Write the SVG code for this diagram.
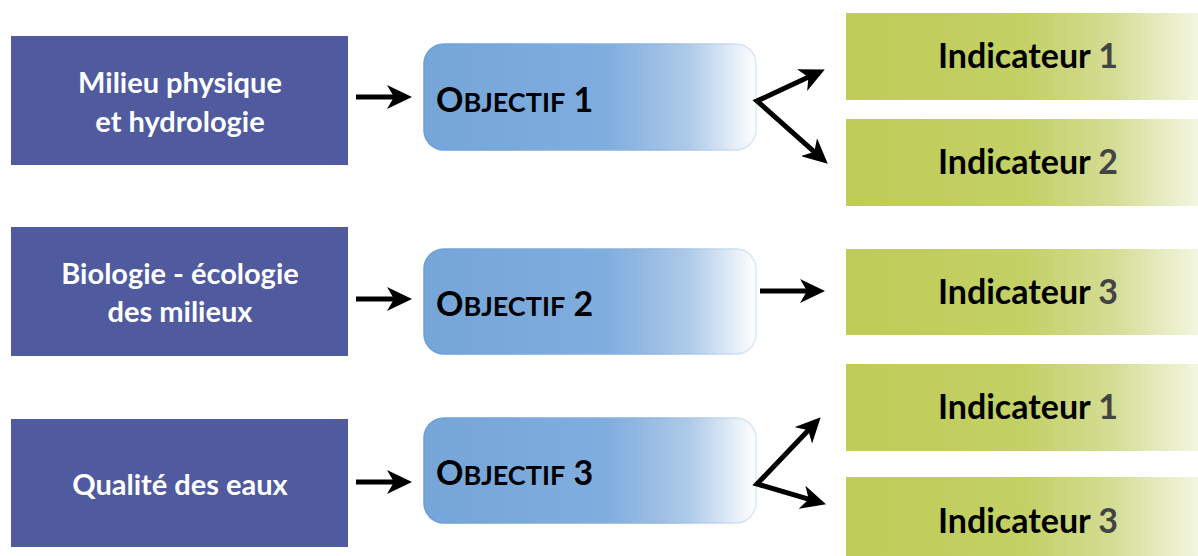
<svg xmlns="http://www.w3.org/2000/svg" width="1198" height="556" viewBox="0 0 1198 556">
<defs>
<linearGradient id="gObj" x1="0" y1="0" x2="1" y2="0">
<stop offset="0" stop-color="#76a5d9"/>
<stop offset="0.55" stop-color="#7fadde"/>
<stop offset="0.8" stop-color="#afcae8"/>
<stop offset="1" stop-color="#ffffff"/>
</linearGradient>
<linearGradient id="gObjS" x1="0" y1="0" x2="1" y2="0">
<stop offset="0" stop-color="#6c9fd5"/>
<stop offset="0.7" stop-color="#8db5e0"/>
<stop offset="1" stop-color="#dde9f6"/>
</linearGradient>
<linearGradient id="gInd" x1="0" y1="0" x2="1" y2="0">
<stop offset="0" stop-color="#bfcc58"/>
<stop offset="0.5" stop-color="#c3d064"/>
<stop offset="0.75" stop-color="#d3dc92"/>
<stop offset="1" stop-color="#f3f6e0"/>
</linearGradient>
<marker id="ah" markerUnits="userSpaceOnUse" markerWidth="26" markerHeight="24" viewBox="0 0 26 24" refX="13" refY="12" orient="auto-start-reverse">
<path d="M0,0 L25,12 L0,24 L7,12 Z" fill="#000"/>
</marker>
</defs>
<style>
.src rect{fill:#4f5a9f}
.src text{fill:#fff;font-family:Lato,"Open Sans",sans-serif;font-weight:bold;font-size:29px;text-anchor:middle}
.obj rect{fill:url(#gObj);stroke:url(#gObjS);stroke-width:1.5}
.obj text{fill:#000;font-family:Lato,"Open Sans",sans-serif;font-weight:bold;font-size:34px}
.obj .sc{font-size:27px}
.ind rect{fill:url(#gInd)}
.ind text{fill:#000;font-family:Lato,"Open Sans",sans-serif;font-weight:bold;font-size:34px;text-anchor:middle}
.ind .n{fill:#444}
.conn path{fill:none;stroke:#000;stroke-width:5;stroke-linejoin:miter;marker-end:url(#ah)}
.conn .b{marker-start:url(#ah)}
</style>
<g id="src1" class="src"><rect x="11" y="36" width="337" height="129"/><text x="180" y="93">Milieu physique</text><text x="180" y="132">et hydrologie</text></g>
<g id="src2" class="src"><rect x="11" y="227" width="337" height="129"/><text x="180" y="284">Biologie - écologie</text><text x="180" y="322">des milieux</text></g>
<g id="src3" class="src"><rect x="11" y="419" width="337" height="128"/><text x="180" y="495">Qualité des eaux</text></g>
<g id="obj1" class="obj"><rect x="424" y="44" width="332" height="106" rx="20"/><text x="436" y="112">O<tspan class="sc">BJECTIF</tspan> 1</text></g>
<g id="obj2" class="obj"><rect x="424" y="249" width="332" height="105" rx="20"/><text x="436" y="316">O<tspan class="sc">BJECTIF</tspan> 2</text></g>
<g id="obj3" class="obj"><rect x="424" y="418" width="332" height="105" rx="20"/><text x="436" y="485">O<tspan class="sc">BJECTIF</tspan> 3</text></g>
<g id="ind1" class="ind"><rect x="846" y="13" width="352" height="87"/><text x="1028" y="68">Indicateur <tspan class="n">1</tspan></text></g>
<g id="ind2" class="ind"><rect x="846" y="119" width="352" height="87"/><text x="1028" y="174">Indicateur <tspan class="n">2</tspan></text></g>
<g id="ind3" class="ind"><rect x="846" y="249" width="352" height="86"/><text x="1028" y="304">Indicateur <tspan class="n">3</tspan></text></g>
<g id="ind4" class="ind"><rect x="846" y="364" width="352" height="87"/><text x="1028" y="419">Indicateur <tspan class="n">1</tspan></text></g>
<g id="ind5" class="ind"><rect x="846" y="477" width="352" height="79"/><text x="1028" y="533">Indicateur <tspan class="n">3</tspan></text></g>
<g id="connectors" class="conn">
<path d="M356,97 L400,97"/>
<path d="M356,299 L400,299"/>
<path d="M356,482 L400,482"/>
<path class="b" d="M813.9,74.6 L757,101 L818.8,155.8"/>
<path d="M760,291 L813,291"/>
<path class="b" d="M812.4,426 L757,484 L814.5,500.9"/>
</g>
</svg>
